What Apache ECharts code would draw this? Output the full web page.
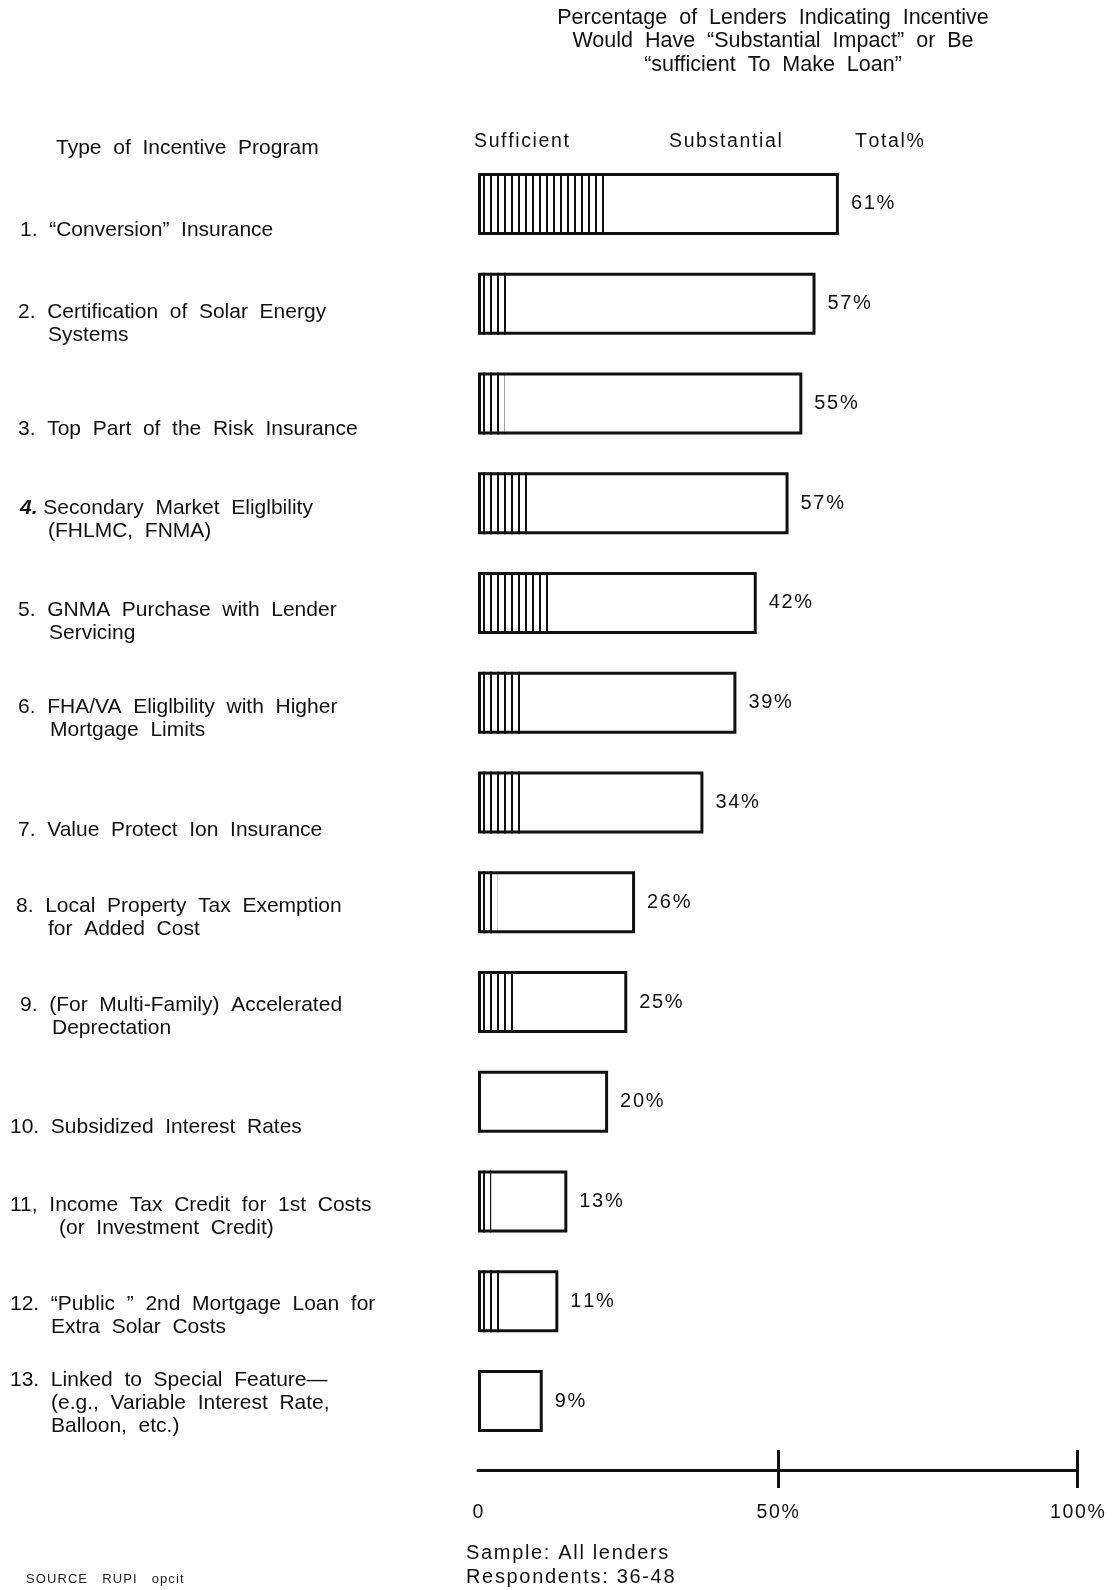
<!DOCTYPE html>
<html>
<head>
<meta charset="utf-8">
<script src="https://cdn.jsdelivr.net/npm/echarts@6/dist/echarts.min.js"></script>
<style>
  html, body { margin: 0; padding: 0; background: #fff; }
  #chart { width: 1115px; height: 1590px; }
</style>
</head>
<body>
<div id="chart"></div>
<script>
// item numbers as printed (note "11," in the original)
const itemNumbers = ["1.", "2.", "3.", "4.", "5.", "6.", "7.", "8.", "9.", "10.", "11,", "12.", "13."];
const itemLines = [
    ["\u201cConversion\u201d Insurance"],
    ["Certification of Solar Energy", "Systems"],
    ["Top Part of the Risk Insurance"],
    ["Secondary Market Eliglbility", "(FHLMC, FNMA)"],
    ["GNMA Purchase with Lender", "Servicing"],
    ["FHA/VA Eliglbility with Higher", "Mortgage Limits"],
    ["Value Protect Ion Insurance"],
    ["Local Property Tax Exemption", "for Added Cost"],
    ["(For Multi-Family) Accelerated", "Deprectation"],
    ["Subsidized Interest Rates"],
    ["Income Tax Credit for 1st Costs", "(or Investment Credit)"],
    ["\u201cPublic \u201d 2nd Mortgage Loan for", "Extra Solar Costs"],
    ["Linked to Special Feature\u2014", "(e.g., Variable Interest Rate,", "Balloon, etc.)"]
];

// bar lengths as drawn (percent of lenders) and the printed totals
const totalBars = [60.2, 56.3, 54.1, 51.8, 46.5, 43.1, 37.6, 26.2, 24.9, 21.7, 14.9, 13.4, 10.8];
const totalLabels = ["61%", "57%", "55%", "57%", "42%", "39%", "34%", "26%", "25%", "20%", "13%", "11%", "9%"];
// hatched "sufficient to make loan" part
const sufficient = [21.2, 5.1, 4.4, 8.3, 12.5, 7.1, 7.8, 3.2, 6.1, 0, 2.2, 4.1, 0];

const axisTicks = [0, 50, 100];
const headerLines = [
    "Percentage of Lenders Indicating Incentive",
    "Would Have \u201cSubstantial Impact\u201d or Be",
    "\u201csufficient To Make Loan\u201d"
];
const columnHeads = ["Sufficient", "Substantial", "Total%"];
const sampleLines = ["Sample: All lenders", "Respondents: 36-48"];
const sourceNote = "SOURCE   RUPI   opcit";

// layout of the left column (first line centre y, number x, continuation x)
const labelY = [230, 312, 429, 508, 610, 707.5, 830, 906, 1005.5, 1127, 1205, 1304.5, 1380.5];
const numX = [20, 18, 18, 20, 18, 18, 18, 16, 20, 10, 10, 10, 10];
const contX = [53, 48, 48, 48, 49, 50, 48, 48, 52, 52, 59, 51, 51];
const lineStep = 22.8;

const FONT = "'Liberation Sans', Arial, Helvetica, sans-serif";
const wide = s => s.replace(/ /g, "  ");
const spaced = s => s.split("").join("\u200a");

function hatchPattern() {
    const c = document.createElement("canvas");
    c.width = 7;
    c.height = 8;
    const ctx = c.getContext("2d");
    ctx.fillStyle = "#fff";
    ctx.fillRect(0, 0, 7, 8);
    ctx.fillStyle = "#111";
    ctx.fillRect(0, 0, 2, 8);
    return c;
}

const chart = echarts.init(document.getElementById("chart"), null, { renderer: "canvas" });

const graphics = [];
graphics.push({
    type: "text", x: 56, y: 148,
    style: { text: wide("Type of Incentive Program"), font: "21px " + FONT, fill: "#111", verticalAlign: "middle" }
});
headerLines.forEach((t, i) => {
    graphics.push({
        type: "text", x: 773, y: 18 + i * 23.5,
        style: { text: wide(t), font: "21.5px " + FONT, fill: "#111", align: "center", verticalAlign: "middle" }
    });
});
const headX = [474, 669, 855];
columnHeads.forEach((t, i) => {
    graphics.push({
        type: "text", x: headX[i], y: 142,
        style: { text: spaced(t), font: "19.5px " + FONT, fill: "#111", verticalAlign: "middle" }
    });
});
itemNumbers.forEach((num, i) => {
    const lines = itemLines[i];
    const isBold = i === 3;
    graphics.push({
        type: "text", x: numX[i], y: labelY[i],
        style: {
            text: isBold ? "{b|" + num + "} " + wide(lines[0]) : num + "  " + wide(lines[0]),
            font: "21px " + FONT, fill: "#111", verticalAlign: "middle",
            rich: { b: { font: "italic bold 21px " + FONT, fill: "#111" } }
        }
    });
    for (let k = 1; k < lines.length; k++) {
        graphics.push({
            type: "text", x: contX[i], y: labelY[i] + k * lineStep,
            style: { text: wide(lines[k]), font: "21px " + FONT, fill: "#111", verticalAlign: "middle" }
        });
    }
});
sampleLines.forEach((t, i) => {
    graphics.push({
        type: "text", x: 466, y: 1553 + i * 24,
        style: { text: spaced(t), font: "20px " + FONT, fill: "#111", verticalAlign: "middle" }
    });
});
graphics.push({
    type: "text", x: 26, y: 1579,
    style: { text: spaced(sourceNote), font: "13px " + FONT, fill: "#222", verticalAlign: "middle" }
});

const option = {
    backgroundColor: "#fff",
    animation: false,
    grid: { left: 478, right: 37.5, top: 154, bottom: 139, containLabel: false, outerBoundsMode: "none" },
    xAxis: [
        {
            type: "value", min: 0, max: 100, interval: 50, position: "bottom", offset: 19,
            axisLine: { show: true, lineStyle: { color: "#111", width: 3 } },
            axisTick: { show: true, inside: false, length: 18, customValues: [50, 100], lineStyle: { color: "#111", width: 3 } },
            axisLabel: {
                show: true, margin: 33, customValues: axisTicks,
                formatter: v => v === 0 ? "0" : spaced(v + "%"),
                fontFamily: FONT, fontSize: 19.5, color: "#111"
            },
            splitLine: { show: false }
        },
        {
            type: "value", min: 0, max: 100, interval: 50, position: "bottom", offset: 19,
            axisLine: { show: false },
            axisTick: { show: true, inside: true, length: 20, customValues: [50, 100], lineStyle: { color: "#111", width: 3 } },
            axisLabel: { show: false },
            splitLine: { show: false }
        }
    ],
    yAxis: {
        type: "category", inverse: true,
        data: itemNumbers,
        axisLine: { show: false }, axisTick: { show: false }, axisLabel: { show: false }, splitLine: { show: false }
    },
    series: [
        {
            name: "Sufficient", type: "bar", barWidth: 62, barGap: "-100%",
            data: sufficient,
            itemStyle: { color: { image: hatchPattern(), repeat: "repeat" }, borderWidth: 0 },
            silent: true
        },
        {
            name: "Total", type: "bar", barWidth: 62, barGap: "-100%",
            data: totalBars,
            itemStyle: { color: "rgba(255,255,255,0)", borderColor: "#111", borderWidth: 3 },
            label: {
                show: true, position: "right", distance: 12,
                formatter: p => spaced(totalLabels[p.dataIndex]),
                fontFamily: FONT, fontSize: 20, color: "#111"
            },
            silent: true
        }
    ],
    graphic: graphics
};

chart.setOption(option);
</script>
</body>
</html>
